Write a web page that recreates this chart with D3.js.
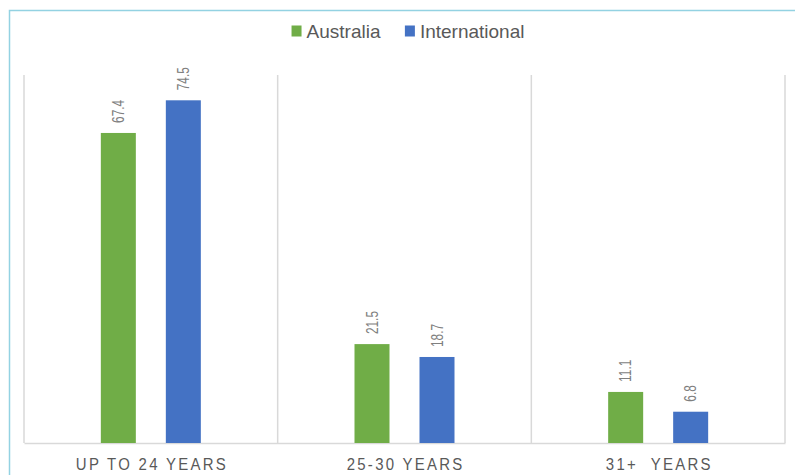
<!DOCTYPE html>
<html>
<head>
<meta charset="utf-8">
<script src="https://cdn.jsdelivr.net/npm/d3@7"></script>
<style>
  html, body { margin: 0; padding: 0; background: #fff; }
  svg { display: block; }
</style>
</head>
<body>
<svg id="chart" width="795" height="475"></svg>
<script>
// Age groups and the share (%) of students in each, by origin
const categories = ["UP TO 24 YEARS", "25-30 YEARS", "31+  YEARS"];
const seriesNames = ["Australia", "International"];
const australia = [67.4, 21.5, 11.1];
const international = [74.5, 18.7, 6.8];
const colors = ["#70ad47", "#4472c4"];

const series = [australia, international];
const rows = categories.map((c, i) => ({
  category: c,
  values: seriesNames.map((s, j) => ({ name: s, value: series[j][i], color: colors[j] }))
}));

const svg = d3.select("#chart");
const W = 795, H = 475;
const plot = { left: 24, right: 785, top: 75, bottom: 443 };
const baseFont = "'Liberation Sans', Arial, sans-serif";

// Outer chart frame (extends past the right edge)
svg.append("path")
  .attr("d", `M9.5,${H} V10.5 H${W}`)
  .attr("fill", "none")
  .attr("stroke", "#93d2e2")
  .attr("stroke-width", 1.5);

const x = d3.scaleBand()
  .domain(categories)
  .range([plot.left, plot.right])
  .padding(0);

const y = d3.scaleLinear()
  .domain([0, 80])
  .range([plot.bottom, plot.top]);

// Category divider gridlines
const dividers = [plot.left, ...categories.map(c => x(c) + x.bandwidth())];
svg.append("g")
  .selectAll("line")
  .data(dividers)
  .join("line")
  .attr("x1", d => d).attr("x2", d => d)
  .attr("y1", plot.top).attr("y2", plot.bottom)
  .attr("stroke", "#d9d9d9")
  .attr("stroke-width", 1.5);

// Category axis (condensed, letter-spaced capitals)
const xAxis = svg.append("g")
  .attr("transform", `translate(0,${plot.bottom})`)
  .call(d3.axisBottom(x).tickSize(0).tickPadding(15));
xAxis.select(".domain")
  .attr("stroke", "#d9d9d9")
  .attr("stroke-width", 1.5);
xAxis.selectAll("text")
  .attr("fill", "#595959")
  .attr("transform", "scale(0.88,1)")
  .style("font-family", baseFont)
  .style("font-size", "17px")
  .style("letter-spacing", "2.6px")
  .style("white-space", "pre")
  .attr("dx", "1.3px");

// Bars with rotated value labels
const groups = svg.append("g")
  .selectAll("g")
  .data(rows)
  .join("g");

groups.each(function (row) {
  const c = x(row.category) + x.bandwidth() / 2;
  const inner = d3.scaleBand()
    .domain(seriesNames)
    .range([c - 50, c + 50])
    .paddingInner(0.4615)
    .paddingOuter(0);
  const g = d3.select(this);
  g.selectAll("rect")
    .data(row.values)
    .join("rect")
    .attr("x", d => inner(d.name))
    .attr("width", inner.bandwidth())
    .attr("y", d => y(d.value))
    .attr("height", d => plot.bottom - y(d.value))
    .attr("fill", d => d.color);
  g.selectAll("text")
    .data(row.values)
    .join("text")
    .attr("transform", d => `translate(${inner(d.name) + inner.bandwidth() / 2},${y(d.value) - 10}) rotate(-90) scale(0.72,1)`)
    .attr("text-anchor", "start")
    .attr("dominant-baseline", "central")
    .attr("fill", "#7f7f7f")
    .style("font-family", baseFont)
    .style("font-size", "16.5px")
    .text(d => d.value.toFixed(1));
});

// Legend
const legend = svg.append("g");
const items = legend.selectAll("g")
  .data(seriesNames)
  .join("g");
items.append("rect")
  .attr("width", 10).attr("height", 11)
  .attr("y", -5.5)
  .attr("fill", (d, i) => colors[i]);
items.append("text")
  .attr("x", 15)
  .attr("dominant-baseline", "central")
  .attr("fill", "#595959")
  .style("font-family", baseFont)
  .style("font-size", "19px")
  .text(d => d);
let offset = 0;
items.each(function () {
  d3.select(this).attr("transform", `translate(${offset},0)`);
  offset += this.getBBox().width + 24;
});
const legendWidth = offset - 24;
legend.attr("transform", `translate(${408 - legendWidth / 2},31)`);
</script>
</body>
</html>
